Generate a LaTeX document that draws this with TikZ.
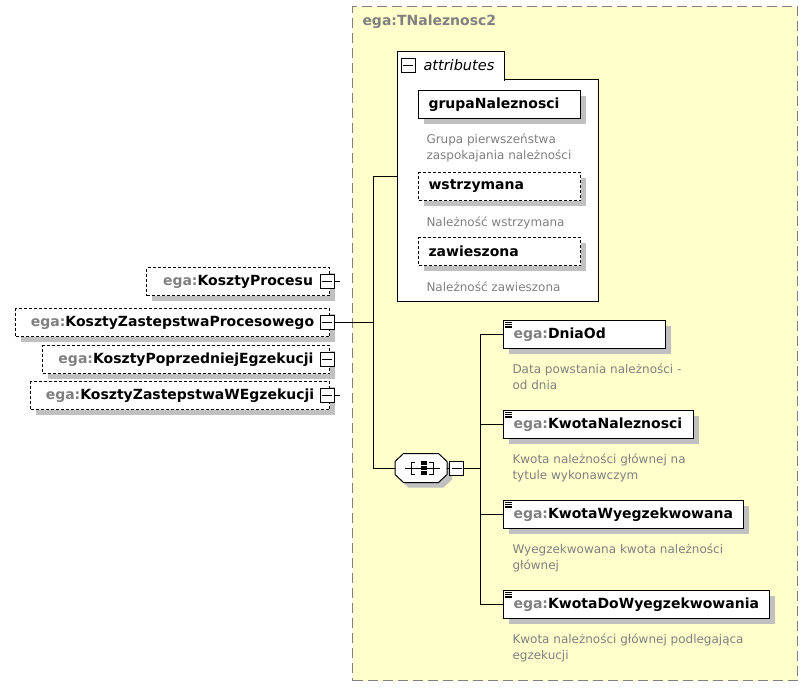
\documentclass[tikz,border=0pt]{standalone}
\usepackage{fontspec}
\setmainfont{DejaVu Sans}
\usetikzlibrary{positioning, shadows, calc}
\definecolor{cyellow}{HTML}{FFFFCC}
\definecolor{cgrey}{HTML}{808080}
\definecolor{cshadow}{HTML}{C0C0C0}
\newcommand{\ega}[1]{{\color{cgrey}ega:}#1}
\tikzset{
  every picture/.style={x=1pt, y=-1pt, line width=1pt},
  typebox/.style={draw=cgrey, fill=cyellow, dash pattern=on 10pt off 5pt, anchor=north west, inner sep=0pt},
  title/.style={font=\fontsize{14pt}{16pt}\selectfont\bfseries, text=cgrey, anchor=west, inner sep=0pt},
  panel/.style={draw, fill=white, anchor=north west, inner sep=0pt},
  shade/.style={general shadow={fill=cshadow, shadow xshift=5pt, shadow yshift=-5pt}},
  box/.style={draw, fill=white, minimum height=28pt, inner ysep=0pt, font=\fontsize{14pt}{16pt}\selectfont\bfseries, shade},
  elem/.style={box, anchor=north west, inner xsep=10pt, text width=#1, align=left},
  lelem/.style={box, anchor=north east, inner xsep=0pt, minimum width=#1, opt},
  opt/.style={dash pattern=on 3pt off 2pt},
  minus/.style={draw, fill=white, minimum size=14pt, inner sep=0pt,
    path picture={\draw ([xshift=2pt]path picture bounding box.west) -- ([xshift=-2pt]path picture bounding box.east);}},
  desc/.style={text=cgrey, anchor=north west, inner sep=0pt, align=left, font=\fontsize{12pt}{16pt}\selectfont,
    execute at begin node={\rule{0pt}{10pt}}},
  conn/.style={draw=black, line width=1pt},
}

\begin{document}
\begin{tikzpicture}
  \useasboundingbox (0,0) rectangle (805,694);
  % the complex type
  \node[typebox, minimum width=445pt, minimum height=674pt] (tnal) at (352,6) {};
  \node[title] (tname) at (362,22) {ega:TNaleznosc2};
  % attributes
  \node[panel, minimum width=201pt, minimum height=222pt] (attrs) at (397,79) {};
  \node[anchor=north west, inner sep=0pt, minimum width=106pt, minimum height=28.6pt, fill=white] (atab) at (397,51) {};
  \draw (atab.south west) |- (atab.north east) -- (atab.south east);
  \node[minus] (atm) at (408,65) {};
  \node[anchor=west, inner sep=0pt, font=\fontsize{14.5pt}{16pt}\selectfont\itshape] (atxt) at (423,65) {attributes};
  \node[elem=142pt] (grupa) at (418,90) {grupaNaleznosci};
  \node[elem=142pt, opt] (wstrz) at (418,172) {wstrzymana};
  \node[elem=142pt, opt] (zawie) at (418,237) {zawieszona};
  \node[desc] (grupaD) at ([shift={(8,14.5)}]grupa.south west) {Grupa pierwszeństwa\\zaspokajania należności};
  \node[desc] (wstrzD) at ([shift={(8,14.5)}]wstrz.south west) {Należność wstrzymana};
  \node[desc] (zawieD) at ([shift={(8,14.5)}]zawie.south west) {Należność zawieszona};
  % elements using the type
  \node[lelem=183pt] (kp) at (330,267) {\ega{KosztyProcesu}};
  \node[lelem=314pt] (kzp) at (330,308) {\ega{KosztyZastepstwaProcesowego}};
  \node[lelem=287pt] (kpe) at (330,345) {\ega{KosztyPoprzedniejEgzekucji}};
  \node[lelem=299pt] (kzwe) at (330,381) {\ega{KosztyZastepstwaWEgzekucji}};
  \foreach \e in {kp, kzp, kpe, kzwe} \node[minus] (\e m) at ([xshift=-3pt]\e.east) {};
  \draw[conn] (kpm.east) -- ++(5,0);
  \draw[conn] (kzwem.east) -- ++(5,0);
  % sequence
  \node[minimum width=51pt, minimum height=28pt, inner sep=0pt] (seq) at (421,468) {};
  \draw[fill=white, shade] ([xshift=8.5pt]seq.north west) -- ([xshift=-8.5pt]seq.north east)
    -- ([yshift=-8pt]seq.north east) -- ([yshift=8pt]seq.south east) -- ([xshift=-8.5pt]seq.south east)
    -- ([xshift=8.5pt]seq.south west) -- ([yshift=8pt]seq.south west) -- ([yshift=-8pt]seq.north west) -- cycle;
  \begin{scope}[shift={(seq.center)}]
    \draw (-16,0) -- (19,0);
    \draw (-6,-6) -- (-10,-6) -- (-10,6) -- (-6,6);
    \draw (8,-6) -- (12,-6) -- (12,6) -- (8,6);
    \foreach \v in {-7.5,-2.5,2.5} \fill (-0.5,\v) rectangle ++(6,4.5);
  \end{scope}
  \node[minus] (seqm) at (456.5,468) {};
  % children
  \node[elem=142pt] (dnia) at (503,320) {\ega{DniaOd}};
  \node[elem=170pt] (kwn) at (503,410) {\ega{KwotaNaleznosci}};
  \node[elem=220pt] (kww) at (503,500) {\ega{KwotaWyegzekwowana}};
  \node[elem=246pt] (kwd) at (503,590) {\ega{KwotaDoWyegzekwowania}};
  \foreach \e in {dnia, kwn, kww, kwd}
    \foreach \k in {0,...,3} \draw[line width=0.7pt] ([shift={(2,2.5+1.7*\k)}]\e.north west) -- ++(7,0);
  \node[desc] (dniaD) at ([shift={(9,14.5)}]dnia.south west) {Data powstania należności -\\od dnia};
  \node[desc] (kwnD) at ([shift={(9,14.5)}]kwn.south west) {Kwota należności głównej na\\tytule wykonawczym};
  \node[desc] (kwwD) at ([shift={(9,14.5)}]kww.south west) {Wyegzekwowana kwota należności\\głównej};
  \node[desc] (kwdD) at ([shift={(9,14.5)}]kwd.south west) {Kwota należności głównej podlegająca\\egzekucji};
  % connectors
  \coordinate (attin) at ($(atab.north west)!0.5!(attrs.south west)$);
  \coordinate (hub) at (373,0);
  \coordinate (bus) at (480,0);
  \draw[conn] (kzpm.east) -- (kzpm.east -| hub);
  \draw[conn] (attin) -| (hub |- seq.west) -- (seq.west);
  \draw[conn] (seq.east) -- (seqm.west);
  \draw[conn] (seqm.east) -- (seqm.east -| bus);
  \foreach \e in {dnia, kwn, kww, kwd} \draw[conn] (seqm.east -| bus) |- (\e.west);
\end{tikzpicture}
\end{document}
